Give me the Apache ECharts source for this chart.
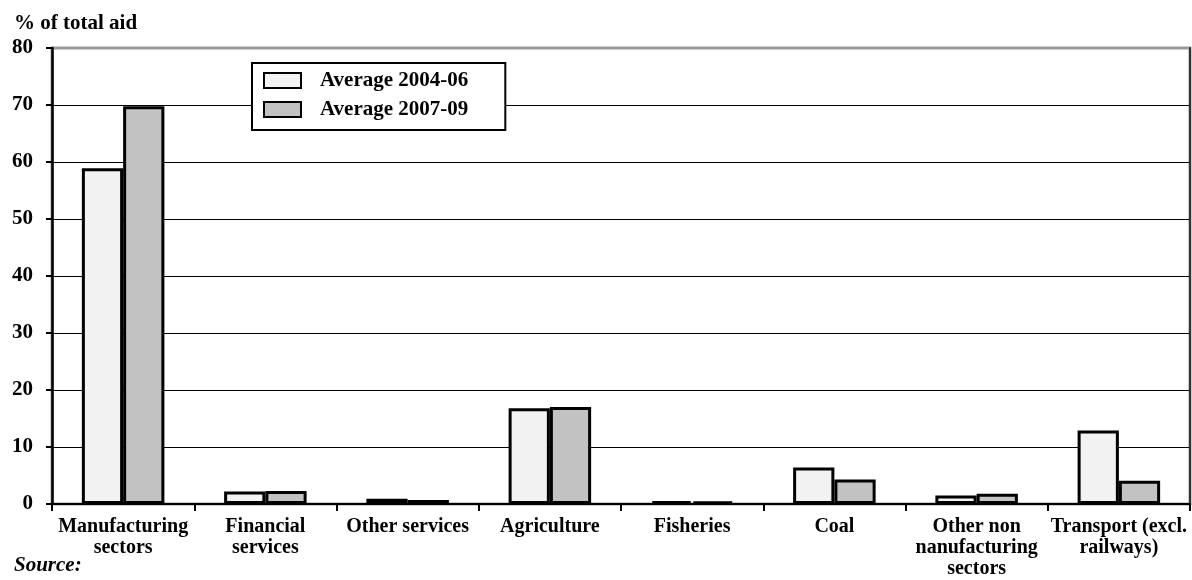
<!DOCTYPE html>
<html>
<head>
<meta charset="utf-8">
<script src="https://cdn.jsdelivr.net/npm/echarts@6/dist/echarts.min.js"></script>
<style>
  html, body { margin: 0; padding: 0; background: #fff; }
  #chart { width: 1192px; height: 580px; }
</style>
</head>
<body>
<div id="chart"></div>
<script>
// Sector categories (line breaks as printed under the axis)
const categories = [
  'Manufacturing\nsectors',
  'Financial\nservices',
  'Other services',
  'Agriculture',
  'Fisheries',
  'Coal',
  'Other non\nnanufacturing\nsectors',
  'Transport (excl.\nrailways)'
];

// Share of total aid, %
const avg2004_06 = [58.9, 2.2, 0.9, 16.8, 0.5, 6.4, 1.5, 12.9];
const avg2007_09 = [69.8, 2.3, 0.7, 17.0, 0.4, 4.3, 1.8, 4.1];

const seriesNames = ['Average 2004-06', 'Average 2007-09'];
const yTicks = [0, 10, 20, 30, 40, 50, 60, 70, 80];

const FONT = '"Liberation Serif", "Times New Roman", serif';

const chart = echarts.init(document.getElementById('chart'));

// Grid lines: black, except the top edge of the frame, which is grey
const splitColors = yTicks.map((v, i) => (i === yTicks.length - 1 ? '#999' : '#000'));

chart.setOption({
  animation: false,
  backgroundColor: '#fff',
  textStyle: { fontFamily: FONT },
  title: [
    {
      text: '% of total aid',
      left: 9, top: 8,
      textStyle: { fontFamily: FONT, fontWeight: 'bold', fontSize: 21, color: '#000' }
    },
    {
      text: 'Source:',
      left: 9, top: 550,
      textStyle: { fontFamily: FONT, fontWeight: 'bold', fontStyle: 'italic', fontSize: 21, color: '#000' }
    }
  ],
  legend: {
    orient: 'vertical',
    left: 252, top: 63,
    padding: [7, 37, 10, 11],
    itemWidth: 37, itemHeight: 15,
    itemGap: 8,
    icon: 'rect',
    backgroundColor: '#fff',
    borderColor: '#000',
    borderWidth: 2,
    textStyle: { fontFamily: FONT, fontWeight: 'bold', fontSize: 21, color: '#000', padding: [0, 0, 0, 14] },
    data: seriesNames
  },
  grid: {
    left: 52, right: 2, top: 48, bottom: 76, containLabel: false,
    show: true, borderColor: '#999', borderWidth: 3, backgroundColor: 'transparent'
  },
  xAxis: {
    type: 'category',
    data: categories,
    axisLine: { show: true, lineStyle: { color: '#000', width: 2 } },
    axisTick: { show: true, alignWithLabel: false, length: 7, lineStyle: { color: '#000', width: 2 } },
    axisLabel: {
      interval: 0,
      margin: 12,
      fontFamily: FONT, fontWeight: 'bold', fontSize: 20, color: '#000',
      lineHeight: 21
    }
  },
  yAxis: [
    {
      type: 'value',
      min: 0, max: 80, interval: 10,
      axisLine: { show: true, lineStyle: { color: '#000', width: 2.5 } },
      axisTick: { show: true, length: 6, lineStyle: { color: '#000', width: 2 } },
      axisLabel: { margin: 19, fontFamily: FONT, fontWeight: 'bold', fontSize: 21, color: '#000' },
      splitLine: { show: true, lineStyle: { color: splitColors, width: 1.2 } }
    },
    {
      type: 'value',
      position: 'right',
      min: 0, max: 80, interval: 10,
      axisLine: { show: true, lineStyle: { color: '#333', width: 2 } },
      axisTick: { show: false },
      axisLabel: { show: false },
      splitLine: { show: false }
    }
  ],
  series: [
    {
      name: seriesNames[0],
      type: 'bar',
      data: avg2004_06,
      barWidth: '29%',
      barGap: '0%',
      itemStyle: { color: '#f2f2f2', borderColor: '#000', borderWidth: 3 }
    },
    {
      name: seriesNames[1],
      type: 'bar',
      data: avg2007_09,
      barWidth: '29%',
      barGap: '0%',
      itemStyle: { color: '#c2c2c2', borderColor: '#000', borderWidth: 3 }
    }
  ]
});
</script>
</body>
</html>
